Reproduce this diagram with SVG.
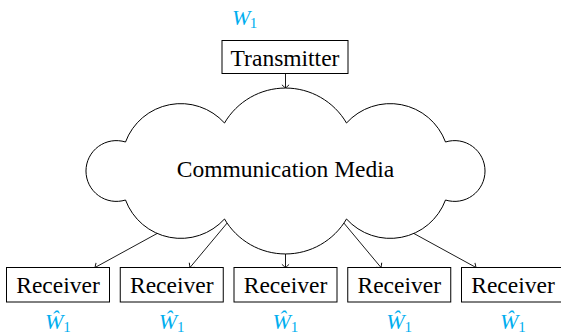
<svg xmlns="http://www.w3.org/2000/svg" width="561" height="334" viewBox="0 0 561 334">
<style>
.box{fill:#fff;stroke:#000;stroke-width:1}
text{font-family:'Liberation Serif','Times New Roman',serif}
.lbl{font-size:23.5px;fill:#000}
.w{font-size:22px;font-style:italic;fill:#00AEEF}
.sub{font-size:15px;font-style:normal;fill:#00AEEF}
.edge{fill:none;stroke:#000;stroke-width:0.9;marker-end:url(#tip)}
</style>
<defs>
<marker id="tip" markerUnits="userSpaceOnUse" markerWidth="10" markerHeight="10" viewBox="-5 -5 10 10" refX="0" refY="0" orient="auto">
<path d="M -3.2 -3.6 Q -0.6 -0.9 0 0 Q -0.6 0.9 -3.2 3.6" fill="none" stroke="#000" stroke-width="0.9"/>
</marker>
</defs>
<g id="connectors">
<line class="edge" x1="285.5" y1="73.5" x2="285.5" y2="88"/>
<line class="edge" x1="158" y1="233" x2="95" y2="267.5"/>
<line class="edge" x1="228" y1="222" x2="190" y2="267.5"/>
<line class="edge" x1="285.5" y1="254" x2="285.5" y2="267.5"/>
<line class="edge" x1="343" y1="222" x2="381" y2="267.5"/>
<line class="edge" x1="413" y1="233" x2="476" y2="267.5"/>
</g>
<g id="w1">
<text class="w" x="232" y="25">W<tspan class="sub" dx="-0.5" dy="3">1</tspan></text>
</g>
<g id="transmitter">
<rect class="box" x="222" y="40.5" width="126" height="33"/>
<text class="lbl" x="285" y="66" text-anchor="middle">Transmitter</text>
</g>
<g id="media">
<path class="box" d="M 125.5 142 A 59 59 0 0 1 224.5 123 A 70.7 70.7 0 0 1 346.5 123 A 59 59 0 0 1 445.5 142 A 30.4 30.4 0 1 1 445.5 200 A 59 59 0 0 1 346.5 219 A 70.7 70.7 0 0 1 224.5 219 A 59 59 0 0 1 125.5 200 A 30.4 30.4 0 1 1 125.5 142 Z"/>
<text class="lbl" x="285.5" y="177" text-anchor="middle">Communication Media</text>
</g>
<g id="receiver1">
<rect class="box" x="6.5" y="267.5" width="103" height="34.5"/>
<text class="lbl" x="58" y="293" text-anchor="middle">Receiver</text>
<text class="w" x="45" y="329">Ŵ<tspan class="sub" dy="3">1</tspan></text>
</g>
<g id="receiver2">
<rect class="box" x="120.25" y="267.5" width="103" height="34.5"/>
<text class="lbl" x="171.75" y="293" text-anchor="middle">Receiver</text>
<text class="w" x="158.75" y="329">Ŵ<tspan class="sub" dy="3">1</tspan></text>
</g>
<g id="receiver3">
<rect class="box" x="234" y="267.5" width="103" height="34.5"/>
<text class="lbl" x="285.5" y="293" text-anchor="middle">Receiver</text>
<text class="w" x="272.5" y="329">Ŵ<tspan class="sub" dy="3">1</tspan></text>
</g>
<g id="receiver4">
<rect class="box" x="347.75" y="267.5" width="103" height="34.5"/>
<text class="lbl" x="399.25" y="293" text-anchor="middle">Receiver</text>
<text class="w" x="386.25" y="329">Ŵ<tspan class="sub" dy="3">1</tspan></text>
</g>
<g id="receiver5">
<rect class="box" x="461.5" y="267.5" width="103" height="34.5"/>
<text class="lbl" x="513" y="293" text-anchor="middle">Receiver</text>
<text class="w" x="500" y="329">Ŵ<tspan class="sub" dy="3">1</tspan></text>
</g>
</svg>
